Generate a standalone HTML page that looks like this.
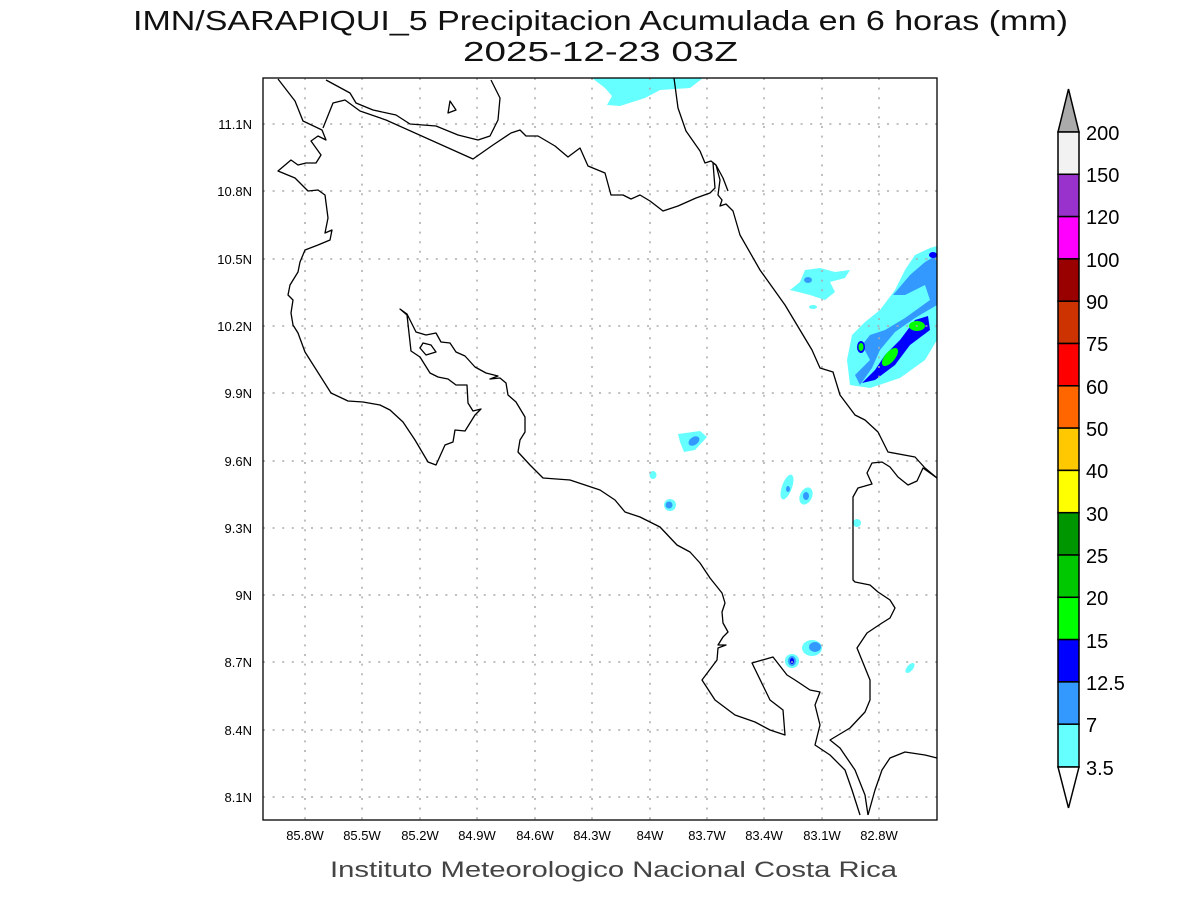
<!DOCTYPE html>
<html><head><meta charset="utf-8"><style>
body{margin:0;background:#fff;}
svg{display:block;font-family:"Liberation Sans",sans-serif;}
</style></head><body>
<svg width="1200" height="900" viewBox="0 0 1200 900" xmlns="http://www.w3.org/2000/svg">
<rect width="1200" height="900" fill="#fff"/>
<text x="133" y="30" font-size="28" textLength="935" lengthAdjust="spacingAndGlyphs" fill="#111">IMN/SARAPIQUI_5 Precipitacion Acumulada en 6 horas (mm)</text>
<text x="463" y="61" font-size="28" textLength="275" lengthAdjust="spacingAndGlyphs" fill="#111">2025-12-23 03Z</text>
<text x="330" y="877" font-size="22" textLength="567" lengthAdjust="spacingAndGlyphs" fill="#444">Instituto Meteorologico Nacional Costa Rica</text>

<!-- precip -->
<g>
<path d="M592,78 L703,78 L690,88 L660,90 L645,98 L620,106 L607,105 L612,96 L605,88 Z" fill="#66ffff"/>
<path d="M850,385 L847,360 L852,335 L865,322 L880,310 L895,290 L905,270 L915,255 L930,248 L937,246 L937,340 L925,360 L900,378 L870,388 Z" fill="#66ffff"/>
<path d="M860,385 L872,368 L880,350 L895,332 L915,318 L937,305 L937,255 L925,262 L910,275 L893,295 L905,295 L925,285 L930,300 L905,318 L885,330 L870,335 L862,345 L870,360 L855,375 Z" fill="#3399ff"/>
<path d="M862,383 L875,370 L885,355 L900,340 L915,320 L928,316 L930,330 L910,345 L895,365 L875,380 Z" fill="#0000ff"/>
<ellipse cx="890" cy="357" rx="5" ry="11" transform="rotate(40 890 357)" fill="#00ff00"/>
<ellipse cx="917" cy="326" rx="8" ry="5" fill="#00ff00"/>
<ellipse cx="861" cy="347" rx="4" ry="6" fill="#0000ff"/><ellipse cx="861" cy="347" rx="2.5" ry="4" fill="#00ff00"/>
<ellipse cx="933" cy="255" rx="4" ry="3" fill="#0000ff"/>
<path d="M790,290 L800,282 L805,270 L820,268 L835,272 L850,270 L845,278 L830,282 L835,292 L825,300 L810,295 L798,292 Z" fill="#66ffff"/>
<ellipse cx="808" cy="280" rx="4" ry="3" fill="#3399ff"/>
<ellipse cx="813" cy="307" rx="4" ry="2" fill="#66ffff"/>
<path d="M678,434 L700,431 L707,437 L695,450 L684,452 L680,442 Z" fill="#66ffff"/>
<ellipse cx="694" cy="441" rx="6" ry="4" transform="rotate(-35 694 441)" fill="#3399ff"/>
<ellipse cx="653" cy="475" rx="3.5" ry="4" fill="#66ffff"/>
<ellipse cx="670" cy="505" rx="6" ry="6" fill="#66ffff"/><ellipse cx="669" cy="505" rx="3.5" ry="3.5" fill="#3399ff"/>
<ellipse cx="787" cy="487" rx="5" ry="13" transform="rotate(20 787 487)" fill="#66ffff"/><ellipse cx="788" cy="489" rx="2" ry="3" fill="#3399ff"/>
<ellipse cx="806" cy="496" rx="6" ry="9" transform="rotate(25 806 496)" fill="#66ffff"/><ellipse cx="806" cy="496" rx="3" ry="4" fill="#3399ff"/>
<ellipse cx="857" cy="523" rx="4" ry="4" fill="#66ffff"/>
<ellipse cx="812" cy="648" rx="10" ry="8" fill="#66ffff"/><ellipse cx="815" cy="647" rx="6" ry="5" fill="#3399ff"/>
<ellipse cx="792" cy="661" rx="7" ry="7" fill="#66ffff"/><ellipse cx="792" cy="661" rx="4" ry="5" fill="#3399ff"/><ellipse cx="792" cy="661" rx="2" ry="3" fill="#0000ff"/>
<ellipse cx="910" cy="668" rx="3" ry="6" transform="rotate(40 910 668)" fill="#66ffff"/>
</g>

<!-- grid -->
<g stroke="#aaa" stroke-width="1.5" stroke-dasharray="2,7.6">
<line x1="305" y1="78" x2="305" y2="820"/><line x1="362" y1="78" x2="362" y2="820"/><line x1="420" y1="78" x2="420" y2="820"/><line x1="477" y1="78" x2="477" y2="820"/><line x1="535" y1="78" x2="535" y2="820"/><line x1="592" y1="78" x2="592" y2="820"/><line x1="650" y1="78" x2="650" y2="820"/><line x1="707" y1="78" x2="707" y2="820"/><line x1="764" y1="78" x2="764" y2="820"/><line x1="822" y1="78" x2="822" y2="820"/><line x1="879" y1="78" x2="879" y2="820"/>
<line x1="263" y1="124" x2="937" y2="124"/><line x1="263" y1="191" x2="937" y2="191"/><line x1="263" y1="259" x2="937" y2="259"/><line x1="263" y1="326" x2="937" y2="326"/><line x1="263" y1="393" x2="937" y2="393"/><line x1="263" y1="461" x2="937" y2="461"/><line x1="263" y1="528" x2="937" y2="528"/><line x1="263" y1="595" x2="937" y2="595"/><line x1="263" y1="662" x2="937" y2="662"/><line x1="263" y1="730" x2="937" y2="730"/><line x1="263" y1="797" x2="937" y2="797"/>
</g>

<!-- coast -->
<g fill="none" stroke="#000" stroke-width="1.3" stroke-linejoin="round">
<polyline points="278,79 295,101 303,121 322,130 326,140 318,136 311,141 321,155 316,163 306,163 298,165 291,160 278,171 295,178 308,191 318,190 325,195 328,218 325,233 332,230 330,240 318,245 305,250 300,262 298,272 290,285 288,295 293,300 291,313 293,325 298,333 305,352 331,393 348,401 363,402 380,405 390,410 403,422 415,440 428,462 436,465 445,445 453,442 455,430 465,431 475,415 481,409 473,411 468,403 467,385 456,385 448,379 438,377 430,373 420,357 411,351 407,315 400,309 407,314 416,332 426,335 436,333 441,342 450,343 456,352 465,356 475,367 486,373 498,376 490,379 500,378 506,383 508,395 516,402 525,417 525,432 520,440 518,452 530,465 543,478 570,480 600,490 615,500 625,512 640,517 660,527 677,545 690,552 700,563 710,578 722,593 725,603 722,612 723,623 728,632 723,637 718,645 726,645 718,648 717,660 702,680 715,700 735,715 755,722 770,730 785,735 783,710 770,700 752,663 773,657 787,675 795,680 810,690 820,692 815,705 820,725 815,745 830,755 845,770 852,790 860,815"/>
<polyline points="868,815 865,795 855,770 840,748 830,740 850,728 865,712 870,700 870,680 857,648 867,633 882,623 890,618 895,608 890,600 878,592 870,585 855,582 853,580 853,497 858,488 872,484 867,473 872,463 882,462 890,467 898,477 908,485 917,481 923,468 937,478"/>
<polyline points="323,128 333,103 345,100 360,111 386,120 473,159 493,145 511,133 520,130 526,136 538,136 555,146 568,157 580,148 588,166 605,173 611,195 623,195 631,199 640,195 650,201 663,211 678,206 696,198 710,193 715,188 713,163 716,165 723,178 728,191"/>
<polyline points="326,80 350,93 356,103 373,110 396,115 410,124 436,126 458,135 478,140 490,136 498,120 500,98 491,80"/>
<polygon points="448,113 450,101 456,110"/>
<polygon points="420,348 423,343 431,345 436,352 426,355"/>
<polyline points="674,78 678,108 686,131 700,151 705,163 711,161 716,165"/>
<polyline points="716,165 720,180 718,195 722,200 720,206 726,204 733,211 740,235 760,270 785,305 800,330 812,350 820,368 833,372 840,395 855,415 865,420 878,432 888,452 915,457 925,468 937,478"/>
<polyline points="937,758 925,755 905,752 890,758 882,770 875,790 868,815"/>
</g>
<rect x="263" y="78" width="674" height="742" fill="none" stroke="#000" stroke-width="1.3"/>

<!-- tick labels -->
<g font-size="13" fill="#000">
<g text-anchor="end">
<text x="252" y="129">11.1N</text><text x="252" y="196">10.8N</text><text x="252" y="264">10.5N</text><text x="252" y="331">10.2N</text><text x="252" y="398">9.9N</text><text x="252" y="466">9.6N</text><text x="252" y="533">9.3N</text><text x="252" y="600">9N</text><text x="252" y="667">8.7N</text><text x="252" y="735">8.4N</text><text x="252" y="802">8.1N</text>
</g>
<g text-anchor="middle">
<text x="305" y="840">85.8W</text><text x="362" y="840">85.5W</text><text x="420" y="840">85.2W</text><text x="477" y="840">84.9W</text><text x="535" y="840">84.6W</text><text x="592" y="840">84.3W</text><text x="650" y="840">84W</text><text x="707" y="840">83.7W</text><text x="764" y="840">83.4W</text><text x="822" y="840">83.1W</text><text x="879" y="840">82.8W</text>
</g>
</g>

<!-- colorbar -->
<g stroke="#000" stroke-width="1.5">
<polygon points="1058,132 1079,132 1068.5,89" fill="#aaaaaa"/>
<rect x="1058" y="132" width="21" height="42.3" fill="#f2f2f2"/>
<rect x="1058" y="174.3" width="21" height="42.3" fill="#9932cc"/>
<rect x="1058" y="216.6" width="21" height="42.3" fill="#ff00ff"/>
<rect x="1058" y="258.9" width="21" height="42.3" fill="#990000"/>
<rect x="1058" y="301.2" width="21" height="42.3" fill="#cc3300"/>
<rect x="1058" y="343.5" width="21" height="42.3" fill="#ff0000"/>
<rect x="1058" y="385.8" width="21" height="42.3" fill="#ff6600"/>
<rect x="1058" y="428.1" width="21" height="42.3" fill="#ffc800"/>
<rect x="1058" y="470.4" width="21" height="42.3" fill="#ffff00"/>
<rect x="1058" y="512.7" width="21" height="42.3" fill="#009600"/>
<rect x="1058" y="555" width="21" height="42.3" fill="#00c800"/>
<rect x="1058" y="597.3" width="21" height="42.3" fill="#00ff00"/>
<rect x="1058" y="639.6" width="21" height="42.3" fill="#0000ff"/>
<rect x="1058" y="681.9" width="21" height="42.3" fill="#3399ff"/>
<rect x="1058" y="724.2" width="21" height="42.8" fill="#66ffff"/>
<polygon points="1058,767 1079,767 1068.5,808" fill="#fff"/>
</g>
<g font-size="20" fill="#000">
<text x="1086" y="140">200</text><text x="1086" y="182">150</text><text x="1086" y="224">120</text><text x="1086" y="267">100</text><text x="1086" y="309">90</text><text x="1086" y="351">75</text><text x="1086" y="394">60</text><text x="1086" y="436">50</text><text x="1086" y="478">40</text><text x="1086" y="521">30</text><text x="1086" y="563">25</text><text x="1086" y="605">20</text><text x="1086" y="648">15</text><text x="1086" y="690">12.5</text><text x="1086" y="732">7</text><text x="1086" y="775">3.5</text>
</g>
</svg>
</body></html>
